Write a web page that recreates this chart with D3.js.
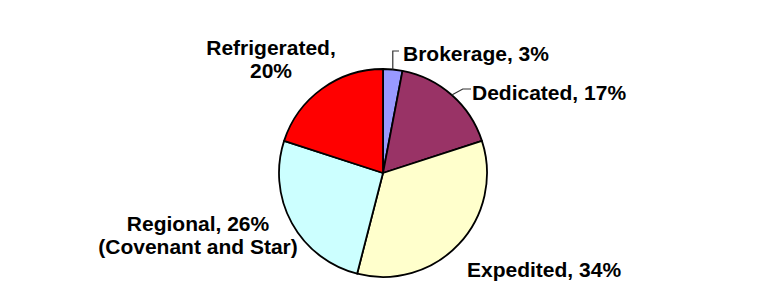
<!DOCTYPE html>
<html>
<head>
<meta charset="utf-8">
<script src="https://cdn.jsdelivr.net/npm/d3@7"></script>
<style>
  html, body { margin: 0; padding: 0; background: #fff; }
  svg text { font-family: "Liberation Sans", Arial, sans-serif; font-weight: bold; font-size: 21px; fill: #000; }
</style>
</head>
<body>
<div id="chart"></div>
<script>
var WIDTH = 770;
var HEIGHT = 307;

// segments, clockwise from 12 o'clock
var categories = ["Brokerage", "Dedicated", "Expedited", "Regional", "Refrigerated"];
var shares = [3, 17, 34, 26, 20];
var colours = ["#9999ff", "#993366", "#ffffcc", "#ccffff", "#ff0000"];
var labelLines = [
  ["Brokerage, 3%"],
  ["Dedicated, 17%"],
  ["Expedited, 34%"],
  ["Regional, 26%", "(Covenant and Star)"],
  ["Refrigerated,", "20%"]
];

// where excel left the labels (x, first baseline, anchor)
var labelPos = [
  {x: 403, y: 61, anchor: "start"},
  {x: 472, y: 100, anchor: "start"},
  {x: 467, y: 277, anchor: "start"},
  {x: 198, y: 231, anchor: "middle"},
  {x: 271, y: 55, anchor: "middle"}
];

var cx = 383, cy = 173, radius = 104;
var LINE_H = 23;

var svg = d3.select("#chart")
  .append("svg")
  .attr("width", WIDTH)
  .attr("height", HEIGHT);

var g = svg.append("g")
  .attr("transform", "translate(" + cx + "," + cy + ")");

var pie = d3.pie().sort(null).value(function(d) { return d; });
var arcs = pie(shares);

var arc = d3.arc().innerRadius(0).outerRadius(radius);
var edgeArc = d3.arc().innerRadius(radius).outerRadius(radius);

g.selectAll(".slice")
  .data(arcs)
  .enter().append("path")
    .attr("class", "slice")
    .attr("d", arc)
    .attr("fill", function(d, i) { return colours[i]; })
    .attr("stroke", "#000")
    .attr("stroke-width", 1.8)
    .attr("stroke-linejoin", "round");

// leader lines for the two small slices at the top
function leader(i) {
  var p = edgeArc.centroid(arcs[i]);
  var x0 = p[0] + cx, y0 = p[1] + cy;
  if (i === 0) {
    var top = labelPos[0].y - 10;
    return [[x0, y0], [x0, top], [labelPos[0].x - 4, top]];
  }
  var ly = labelPos[i].y - 11;
  return [[x0, y0], [x0 + 11, ly], [labelPos[i].x - 1, ly]];
}

svg.selectAll(".leader")
  .data([0, 1])
  .enter().append("polyline")
    .attr("class", "leader")
    .attr("points", function(i) { return leader(i).map(function(p) { return p.join(","); }).join(" "); })
    .attr("fill", "none")
    .attr("stroke", "#333")
    .attr("stroke-width", 1.2);

var labels = svg.selectAll(".label")
  .data(categories)
  .enter().append("text")
    .attr("class", "label")
    .attr("text-anchor", function(d, i) { return labelPos[i].anchor; })
    .attr("x", function(d, i) { return labelPos[i].x; })
    .attr("y", function(d, i) { return labelPos[i].y; });

labels.selectAll("tspan")
  .data(function(d, i) { return labelLines[i].map(function(t) { return {t: t, i: i}; }); })
  .enter().append("tspan")
    .attr("x", function(d) { return labelPos[d.i].x; })
    .attr("dy", function(d, j) { return j === 0 ? 0 : LINE_H; })
    .text(function(d) { return d.t; });
</script>
</body>
</html>
